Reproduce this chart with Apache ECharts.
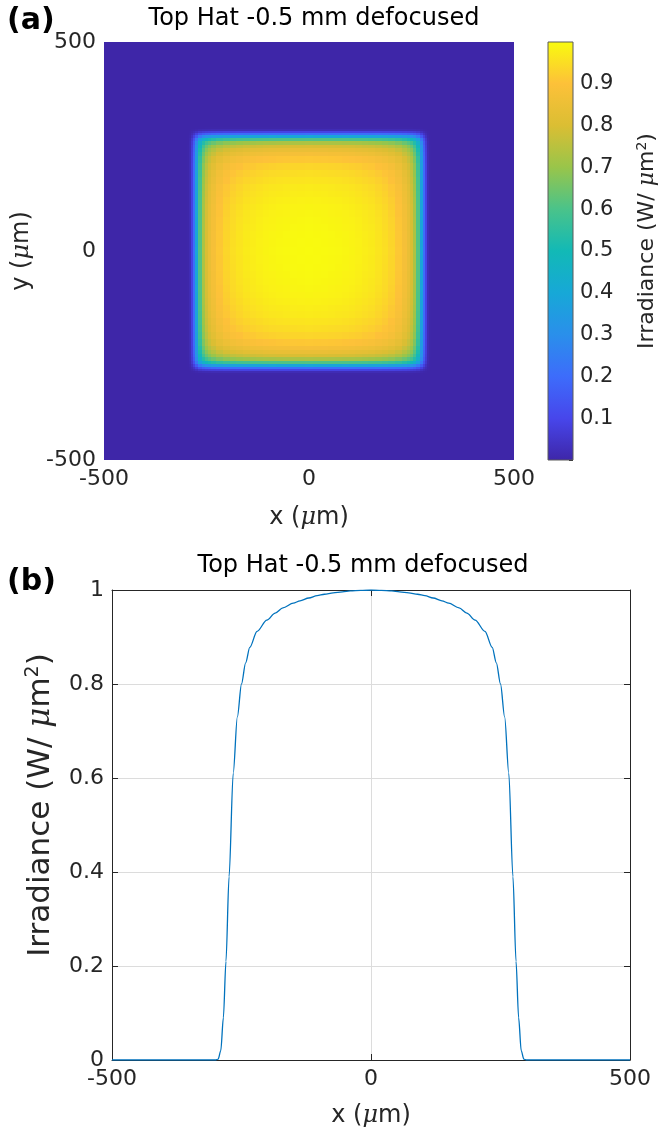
<!DOCTYPE html>
<html>
<head>
<meta charset="utf-8">
<script src="https://cdn.jsdelivr.net/npm/echarts@6/dist/echarts.min.js"></script>
<style>
  html, body { margin: 0; padding: 0; background: #fff; }
  #main { width: 663px; height: 1139px; }
</style>
</head>
<body>
<div id="main"></div>
<script>
// beam profile through the centre
const xPos = [-500, -300, -295, -290, -285, -280, -274, -266, -258, -250, -242, -234, -220, -201, -185,
  -170, -150, -137, -120, -104, -90, -73, -55, -40, -20, 0, 20, 40, 55, 73, 90, 104, 120, 137, 150, 170,
  185, 201, 220, 234, 242, 250, 258, 266, 274, 280, 285, 290, 295, 300, 500]
const irradiance = [0, 0, 0.002, 0.02, 0.09, 0.21, 0.39, 0.61, 0.73, 0.80, 0.845, 0.878, 0.912, 0.936, 0.951,
  0.962, 0.972, 0.977, 0.983, 0.988, 0.991, 0.994, 0.996, 0.998, 0.999, 1.0, 0.999, 0.998, 0.996, 0.994, 0.991,
  0.988, 0.983, 0.977, 0.972, 0.962, 0.951, 0.936, 0.912, 0.878, 0.845, 0.80, 0.73, 0.61, 0.39, 0.21, 0.09,
  0.02, 0.002, 0, 0]
const posTicks = [-500, 0, 500]
const irrTicks = [0, 0.2, 0.4, 0.6, 0.8, 1]
const cbarTicks = [0.1, 0.2, 0.3, 0.4, 0.5, 0.6, 0.7, 0.8, 0.9]

const parula = ['#3E26A8', '#4746EB', '#3D6CFB', '#2A8FEB', '#17A8D7', '#12B9B6', '#4AC38A', '#99C54A',
  '#DBBE33', '#FDC139', '#F9FB0E']
const FONT = 'DejaVu Sans'
const TXT = '#262626'

// cell edges halfway between sample positions
const edges = xPos.map((x, i) => [
  i === 0 ? -500 : (xPos[i - 1] + x) / 2,
  i === xPos.length - 1 ? 500 : (x + xPos[i + 1]) / 2
])
const cells = []
xPos.forEach((x, i) => {
  xPos.forEach((y, j) => {
    cells.push([x, y, irradiance[i] * irradiance[j], edges[i][0], edges[i][1], edges[j][0], edges[j][1]])
  })
})
const lineData = xPos.map((x, i) => [x, irradiance[i]])

const renderCell = (params, api) => {
  const a = api.coord([api.value(3), api.value(6)])
  const b = api.coord([api.value(4), api.value(5)])
  const x = Math.round(a[0]), y = Math.round(a[1])
  return {
    type: 'rect',
    shape: { x: x, y: y, width: Math.round(b[0]) - x, height: Math.round(b[1]) - y },
    style: { fill: api.visual('color') }
  }
}

const renderCbar = (params) => {
  const c = params.coordSys
  return {
    type: 'rect',
    shape: { x: c.x, y: c.y, width: c.width, height: c.height },
    style: {
      fill: new echarts.graphic.LinearGradient(0, 1, 0, 0,
        parula.map((col, k) => ({ offset: k / (parula.length - 1), color: col }))),
      stroke: '#5a5a5a', lineWidth: 1
    }
  }
}

const mu = (size) => ({ mu: { fontStyle: 'italic', fontFamily: 'DejaVu Serif', fontSize: size } })

const chart = echarts.init(document.getElementById('main'))
chart.setOption({
  backgroundColor: '#fff',
  animation: false,
  textStyle: { fontFamily: FONT, color: TXT },
  title: [
    { text: '(a)', left: 2, top: 1, textStyle: { fontFamily: FONT, fontWeight: 'bold', fontSize: 30, color: '#000' } },
    { text: 'Top Hat -0.5 mm defocused', left: 309, top: 2, textAlign: 'center', textStyle: { fontFamily: FONT, fontWeight: 'normal', fontSize: 24, color: '#000' } },
    { text: '(b)', left: 2, top: 562, textStyle: { fontFamily: FONT, fontWeight: 'bold', fontSize: 30, color: '#000' } },
    { text: 'Top Hat -0.5 mm defocused', left: 358, top: 549, textAlign: 'center', textStyle: { fontFamily: FONT, fontWeight: 'normal', fontSize: 24, color: '#000' } }
  ],
  grid: [
    { left: 104, top: 42, width: 410, height: 418, show: true, backgroundColor: parula[0], borderWidth: 0 },
    { left: 548, top: 42, width: 25, height: 418 },
    { left: 112, top: 590, width: 518, height: 470 }
  ],
  visualMap: {
    show: false, type: 'continuous', min: 0, max: 1, dimension: 2, seriesIndex: 0,
    inRange: { color: parula }
  },
  xAxis: [
    {
      gridIndex: 0, type: 'value', min: -500, max: 500, interval: 500,
      name: 'x ({mu|μ}m)', nameLocation: 'middle', nameGap: 46,
      nameTextStyle: { fontFamily: FONT, fontSize: 24, color: TXT, rich: mu(24) },
      axisLine: { show: false, onZero: false }, axisTick: { show: false }, splitLine: { show: false },
      axisLabel: { fontFamily: FONT, fontSize: 22, color: TXT, margin: 8 }
    },
    { gridIndex: 1, type: 'value', min: 0, max: 1, show: false },
    {
      gridIndex: 2, type: 'value', min: -500, max: 500, interval: 500,
      name: 'x ({mu|μ}m)', nameLocation: 'middle', nameGap: 44,
      nameTextStyle: { fontFamily: FONT, fontSize: 24, color: TXT, rich: mu(24) },
      axisLine: { onZero: false, lineStyle: { color: TXT } },
      axisTick: { inside: true, length: 6, lineStyle: { color: TXT } },
      splitLine: { lineStyle: { color: '#dcdcdc' } },
      axisLabel: { fontFamily: FONT, fontSize: 22, color: TXT, margin: 8, formatter: v => posTicks.includes(v) ? String(v) : '' }
    },
    {
      gridIndex: 2, type: 'value', min: -500, max: 500, interval: 500, position: 'top',
      axisLine: { onZero: false, lineStyle: { color: TXT } },
      axisTick: { inside: true, length: 6, lineStyle: { color: TXT } },
      axisLabel: { show: false }, splitLine: { show: false }
    }
  ],
  yAxis: [
    {
      gridIndex: 0, type: 'value', min: -500, max: 500, interval: 500,
      name: 'y ({mu|μ}m)', nameLocation: 'middle', nameGap: 70, nameRotate: 90,
      nameTextStyle: { fontFamily: FONT, fontSize: 24, color: TXT, rich: mu(24) },
      axisLine: { show: false, onZero: false }, axisTick: { show: false }, splitLine: { show: false },
      axisLabel: { fontFamily: FONT, fontSize: 22, color: TXT, margin: 8 }
    },
    {
      gridIndex: 1, type: 'value', min: 0, max: 1, interval: 0.1, position: 'right',
      name: 'Irradiance (W/ {mu|μ}m{sup|2})', nameLocation: 'middle', nameGap: 62, nameRotate: 90,
      nameTextStyle: {
        fontFamily: FONT, fontSize: 22, color: TXT, padding: [0, 0, 0, 20],
        rich: { mu: { fontStyle: 'italic', fontFamily: 'DejaVu Serif', fontSize: 22 }, sup: { fontSize: 14, verticalAlign: 'top', padding: [0, 0, 11, 0] } }
      },
      axisLine: { show: false, onZero: false },
      axisTick: { show: true, inside: true, length: 4, lineStyle: { color: TXT } },
      splitLine: { show: false },
      axisLabel: {
        fontFamily: FONT, fontSize: 21, color: TXT, margin: 7,
        formatter: v => cbarTicks.some(t => Math.abs(t - v) < 1e-6) ? v.toFixed(1) : ''
      }
    },
    {
      gridIndex: 2, type: 'value', min: 0, max: 1, interval: 0.2,
      name: 'Irradiance (W/ {mu|μ}m{sup|2})', nameLocation: 'middle', nameGap: 54, nameRotate: 90,
      nameTextStyle: {
        fontFamily: FONT, fontSize: 31, color: TXT, padding: [0, 0, 0, 40],
        rich: { mu: { fontStyle: 'italic', fontFamily: 'DejaVu Serif', fontSize: 31 }, sup: { fontSize: 19, verticalAlign: 'top', padding: [0, 0, 15, 0] } }
      },
      axisLine: { onZero: false, lineStyle: { color: TXT } },
      axisTick: { inside: true, length: 6, lineStyle: { color: TXT } },
      splitLine: { lineStyle: { color: '#dcdcdc' } },
      axisLabel: {
        fontFamily: FONT, fontSize: 22, color: TXT, margin: 8,
        formatter: v => irrTicks.some(t => Math.abs(t - v) < 1e-6) ? (v === 0 || v === 1 ? String(v) : v.toFixed(1)) : ''
      }
    },
    {
      gridIndex: 2, type: 'value', min: 0, max: 1, interval: 0.2, position: 'right',
      axisLine: { onZero: false, lineStyle: { color: TXT } },
      axisTick: { inside: true, length: 6, lineStyle: { color: TXT } },
      axisLabel: { show: false }, splitLine: { show: false }
    }
  ],
  series: [
    {
      type: 'custom', xAxisIndex: 0, yAxisIndex: 0, clip: true,
      renderItem: renderCell, encode: { x: 0, y: 1 }, data: cells, silent: true
    },
    {
      type: 'custom', xAxisIndex: 1, yAxisIndex: 1,
      renderItem: renderCbar, data: [[0.5, 0.5]], silent: true
    },
    {
      type: 'line', xAxisIndex: 2, yAxisIndex: 2, data: lineData,
      showSymbol: false, smooth: 0.3, smoothMonotone: 'x',
      lineStyle: { color: '#0072BD', width: 1.3 }, z: 3
    }
  ]
})
</script>
</body>
</html>
